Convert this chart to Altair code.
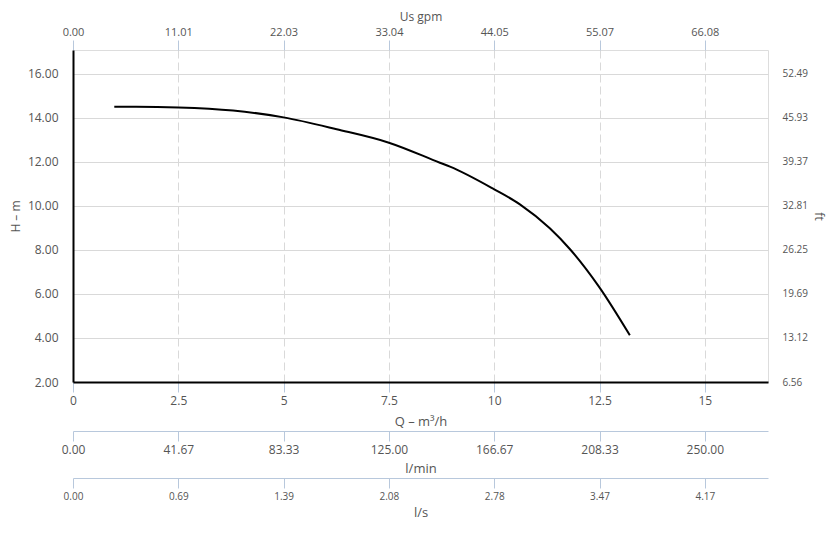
import altair as alt
import pandas as pd

# Pump curve: flow Q (m³/h) vs head H (m)
q_m3h = [0.98, 1.5, 2.5, 3.8, 5.0, 6.26, 7.5, 8.71, 8.95, 10.0, 10.61, 11.32, 11.80, 12.49, 13.22]
h_m = [14.50, 14.50, 14.47, 14.33, 14.02, 13.48, 12.87, 11.96, 11.78, 10.75, 10.07, 8.98, 8.03, 6.32, 4.12]

x_ticks = [0, 2.5, 5, 7.5, 10, 12.5, 15]
x_labels = ["0", "2.5", "5", "7.5", "10", "12.5", "15"]
gpm_labels = ["0.00", "11.01", "22.03", "33.04", "44.05", "55.07", "66.08"]
lmin_labels = ["0.00", "41.67", "83.33", "125.00", "166.67", "208.33", "250.00"]
ls_labels = ["0.00", "0.69", "1.39", "2.08", "2.78", "3.47", "4.17"]

y_ticks = [2, 4, 6, 8, 10, 12, 14, 16]
y_labels = ["2.00", "4.00", "6.00", "8.00", "10.00", "12.00", "14.00", "16.00"]
ft_labels = ["6.56", "13.12", "19.69", "26.25", "32.81", "39.37", "45.93", "52.49"]

df = pd.DataFrame({"q": q_m3h, "h": h_m})

X_DOMAIN = [0, 16.5]
Y_DOMAIN = [2, 17.08]
FONT = "Open Sans"
LBL = "#555555"
TICK = "#b8c8dc"


def lab_expr(vals, labels):
    v = "[" + ",".join(str(x) for x in vals) + "]"
    l = "[" + ",".join("'" + s + "'" for s in labels) + "]"
    return f"{l}[indexof({v}, datum.value)]"


def xaxis(title, orient, labels, offset=0, grid=False, font=12, domain_color=TICK,
          domain_width=1, title_size=13, title_pad=6):
    kw = dict(
        title=title, orient=orient, values=x_ticks, labelExpr=lab_expr(x_ticks, labels),
        offset=offset, grid=grid, tickColor=TICK, tickSize=10, domainColor=domain_color,
        domainWidth=domain_width, labelColor=LBL, labelFont=FONT, labelFontSize=font,
        titleColor=LBL, titleFont=FONT, titleFontSize=title_size, titleFontWeight="normal",
        labelPadding=3, titlePadding=title_pad, labelFlush=False,
    )
    if grid:
        kw.update(gridColor="#d9d9d9", gridDash=[8, 4], gridWidth=1)
    return alt.Axis(**kw)


xs = alt.Scale(domain=X_DOMAIN, nice=False, zero=False)
ys = alt.Scale(domain=Y_DOMAIN, nice=False, zero=False)

main = alt.Chart(df).mark_line(color="black", strokeWidth=2, interpolate="monotone").encode(
    x=alt.X("q:Q", scale=xs, axis=xaxis("Q – m³/h", "bottom", x_labels, grid=True,
                                          domain_color="black", domain_width=2, title_pad=9)),
    y=alt.Y("h:Q", scale=ys, axis=alt.Axis(
        title="H – m", orient="left", values=y_ticks, labelExpr=lab_expr(y_ticks, y_labels),
        grid=True, gridColor="#d9d9d9", ticks=False, domainColor="black", domainWidth=2,
        labelColor=LBL, labelFont=FONT, labelFontSize=12, labelPadding=15,
        titleColor=LBL, titleFont=FONT, titleFontSize=12, titleFontWeight="normal", titlePadding=5)),
)

def ghost(xax, yax=None):
    enc = dict(x=alt.X("q:Q", scale=xs, axis=xax))
    enc["y"] = alt.Y("h:Q", scale=ys, axis=yax)
    return alt.Chart(df).mark_line(opacity=0).encode(**enc)

top = ghost(xaxis("Us gpm", "top", gpm_labels, font=11, domain_color="white", domain_width=0,
                  title_size=12, title_pad=3))
lmin = ghost(xaxis("l/min", "bottom", lmin_labels, offset=49, font=12, title_pad=7))
ls = ghost(xaxis("l/s", "bottom", ls_labels, offset=96, font=10, title_pad=5))
right = ghost(None, alt.Axis(
    title="ft", orient="right", values=y_ticks, labelExpr=lab_expr(y_ticks, ft_labels),
    grid=False, ticks=False, domain=False, labelColor=LBL, labelFont=FONT, labelFontSize=10,
    labelPadding=14, titleColor=LBL, titleFont=FONT, titleFontSize=12,
    titleFontWeight="normal", titleAngle=90, titlePadding=4))

chart = alt.layer(main, top, lmin, ls, right).resolve_scale(
    x="independent", y="independent"
).properties(
    width=695, height=332,
    autosize=alt.AutoSizeParams(type="none"),
    padding={"left": 65, "top": 42, "right": 59, "bottom": 142},
).configure_view(stroke="black", strokeWidth=1).configure(background="white")

chart.save("out.html", embed_options={"renderer": "svg", "actions": False})
